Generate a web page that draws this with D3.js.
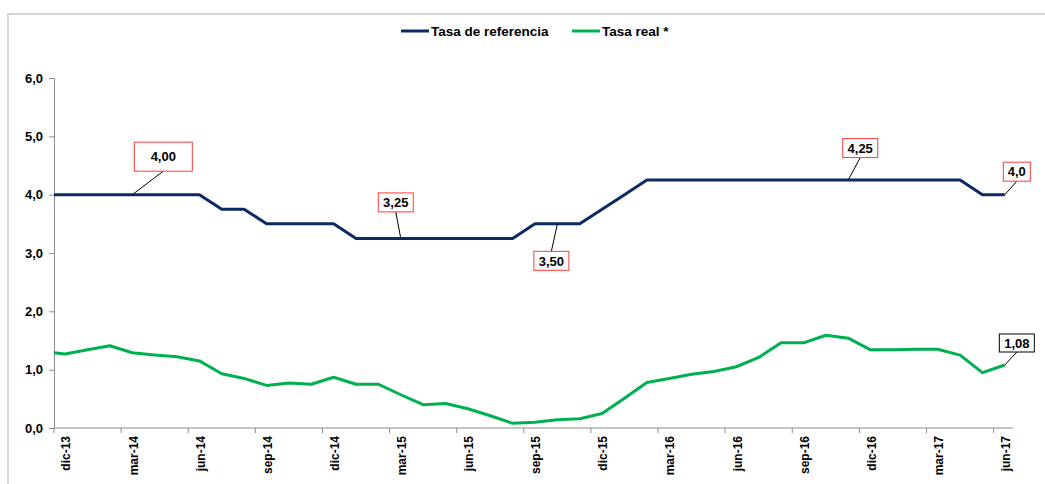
<!DOCTYPE html>
<html>
<head>
<meta charset="utf-8">
<script src="https://cdn.jsdelivr.net/npm/d3@7/dist/d3.min.js"></script>
<style>
  body { margin: 0; background: #fff; }
  text { font-family: Arial, "Liberation Sans", sans-serif; font-weight: bold; fill: #000; }
</style>
</head>
<body>
<div id="chart"></div>
<script>
// meses (nov-13 queda fuera del eje, solo asoma el tramo inicial de las lineas)
var months = ['nov-13','dic-13',
  'ene-14','feb-14','mar-14','abr-14','may-14','jun-14','jul-14','ago-14','sep-14','oct-14','nov-14','dic-14',
  'ene-15','feb-15','mar-15','abr-15','may-15','jun-15','jul-15','ago-15','sep-15','oct-15','nov-15','dic-15',
  'ene-16','feb-16','mar-16','abr-16','may-16','jun-16','jul-16','ago-16','sep-16','oct-16','nov-16','dic-16',
  'ene-17','feb-17','mar-17','abr-17','may-17','jun-17'];

var tasa_referencia = [4.00, 4.00,
  4.00, 4.00, 4.00, 4.00, 4.00, 4.00, 3.75, 3.75, 3.50, 3.50, 3.50, 3.50,
  3.25, 3.25, 3.25, 3.25, 3.25, 3.25, 3.25, 3.25, 3.50, 3.50, 3.50, 3.75,
  4.00, 4.25, 4.25, 4.25, 4.25, 4.25, 4.25, 4.25, 4.25, 4.25, 4.25, 4.25,
  4.25, 4.25, 4.25, 4.25, 4.00, 4.00];

var tasa_real = [1.31, 1.27,
  1.34, 1.41, 1.29, 1.25, 1.22, 1.15, 0.93, 0.85, 0.73, 0.77, 0.75, 0.87,
  0.75, 0.75, 0.57, 0.40, 0.42, 0.33, 0.21, 0.08, 0.10, 0.14, 0.16, 0.25,
  0.51, 0.78, 0.85, 0.92, 0.97, 1.05, 1.21, 1.46, 1.46, 1.59, 1.54, 1.34,
  1.34, 1.35, 1.35, 1.25, 0.95, 1.08];

var tick_months = ['dic-13','mar-14','jun-14','sep-14','dic-14','mar-15','jun-15',
  'sep-15','dic-15','mar-16','jun-16','sep-16','dic-16','mar-17','jun-17'];
var y_ticks = [0, 1, 2, 3, 4, 5, 6];

var series_names = ['Tasa de referencia', 'Tasa real *'];
var series_colors = ['#0b2a63', '#00b050'];

// etiquetas de datos: serie, mes, texto
var labels = [
  {serie: 0, mes: 'mar-14', texto: '4,00'},
  {serie: 0, mes: 'mar-15', texto: '3,25'},
  {serie: 0, mes: 'oct-15', texto: '3,50'},
  {serie: 0, mes: 'nov-16', texto: '4,25'},
  {serie: 0, mes: 'jun-17', texto: '4,0'},
  {serie: 1, mes: 'jun-17', texto: '1,08'}
];
// posicion de las cajas respecto al punto (dx, dy, ancho, alto)
var label_boxes = [
  [31, -38, 58, 29],
  [-5, -36, 35, 19],
  [-6, 37, 35, 19],
  [12, -32, 35, 19],
  [12, -23, 27, 19],
  [12, -22, 35, 18]
];

var width = 1045, height = 484;
var plotLeft = 54, plotRight = 1016, plotTop = 78, plotBottom = 428;
var n_visible = months.length - 1;

var svg = d3.select('#chart').append('svg')
    .attr('width', width)
    .attr('height', height);

// marco gris del grafico
svg.append('path')
    .attr('d', 'M8,' + height + 'V14H' + width)
    .attr('fill', 'none')
    .attr('stroke', '#d6d6d6')
    .attr('stroke-width', 2);

var x = d3.scaleBand().domain(months)
    .range([plotLeft - (plotRight - plotLeft) / n_visible, plotRight]);
var y = d3.scaleLinear().domain([0, 6]).range([plotBottom, plotTop]);
var xc = function(m) { return x(m) + x.bandwidth() / 2; };

svg.append('clipPath').attr('id', 'plot-clip')
  .append('rect')
    .attr('x', plotLeft).attr('y', 0)
    .attr('width', plotRight - plotLeft).attr('height', height);

// eje Y
var yAxis = svg.append('g')
    .attr('transform', 'translate(' + plotLeft + ',0)')
    .call(d3.axisLeft(y).tickValues(y_ticks).tickSize(5).tickPadding(6)
      .tickFormat(function(d) { return d3.format('.1f')(d).replace('.', ','); }));
yAxis.select('.domain').attr('stroke', '#8c8c8c');
yAxis.selectAll('.tick line').attr('stroke', '#8c8c8c');
yAxis.selectAll('text').style('font-size', '13px').style('font-family', 'Arial, "Liberation Sans", sans-serif');

// eje X
var xAxis = svg.append('g')
    .attr('transform', 'translate(0,' + plotBottom + ')')
    .call(d3.axisBottom(x).tickValues(tick_months).tickSize(0).tickPadding(0));
xAxis.select('.domain').remove();
xAxis.selectAll('.tick text')
    .attr('transform', 'rotate(-90)')
    .attr('x', -8)
    .attr('y', 1)
    .attr('dy', '0.35em')
    .attr('text-anchor', 'end')
    .style('font-size', '12px')
    .style('font-family', 'Arial, "Liberation Sans", sans-serif');
svg.append('line')
    .attr('x1', plotLeft).attr('x2', plotRight - 3)
    .attr('y1', plotBottom).attr('y2', plotBottom)
    .attr('stroke', '#8c8c8c');
svg.selectAll('.xtick').data(tick_months).enter().append('line')
    .attr('class', 'xtick')
    .attr('x1', function(d) { return x(d); })
    .attr('x2', function(d) { return x(d); })
    .attr('y1', plotBottom).attr('y2', plotBottom + 5)
    .attr('stroke', '#8c8c8c');

// lineas
var line = d3.line()
    .x(function(d, i) { return xc(months[i]); })
    .y(function(d) { return y(d); });
var plot = svg.append('g').attr('clip-path', 'url(#plot-clip)');
[tasa_referencia, tasa_real].forEach(function(serie, i) {
  plot.append('path')
      .datum(serie)
      .attr('d', line)
      .attr('fill', 'none')
      .attr('stroke', series_colors[i])
      .attr('stroke-width', 3)
      .attr('stroke-linejoin', 'round');
});

// etiquetas de datos
labels.forEach(function(l, i) {
  var serie = l.serie == 0 ? tasa_referencia : tasa_real;
  var px = xc(l.mes), py = y(serie[months.indexOf(l.mes)]);
  var b = label_boxes[i];
  var cx = px + b[0], cy = py + b[1];
  var ey = b[1] < 0 ? cy + b[3] / 2 : cy - b[3] / 2;
  svg.append('line')
      .attr('x1', cx).attr('y1', ey)
      .attr('x2', px).attr('y2', py)
      .attr('stroke', '#000').attr('stroke-width', 1);
  svg.append('rect')
      .attr('x', cx - b[2] / 2).attr('y', cy - b[3] / 2)
      .attr('width', b[2]).attr('height', b[3])
      .attr('fill', '#fff')
      .attr('stroke', l.serie == 0 ? '#ff3b3b' : '#000')
      .attr('stroke-width', 1);
  svg.append('text')
      .attr('x', cx).attr('y', cy)
      .attr('dy', '0.36em')
      .attr('text-anchor', 'middle')
      .style('font-size', '13px')
      .text(l.texto);
});

// leyenda
var legend_x = [401, 572];
series_names.forEach(function(name, i) {
  var g = svg.append('g').attr('transform', 'translate(' + legend_x[i] + ',31)');
  g.append('line').attr('x1', 0).attr('x2', 28)
      .attr('stroke', series_colors[i]).attr('stroke-width', 3);
  g.append('text').attr('x', 30).attr('dy', '0.36em')
      .style('font-size', '13.5px')
      .text(name);
});
</script>
</body>
</html>
